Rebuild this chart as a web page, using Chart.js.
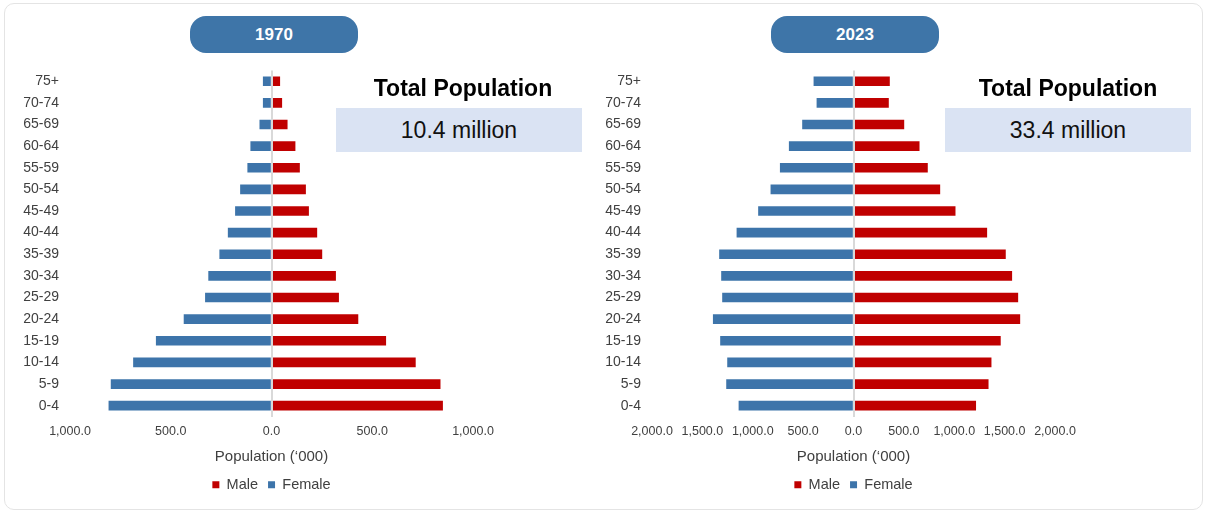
<!DOCTYPE html>
<html>
<head>
<meta charset="utf-8">
<title>Population pyramid 1970 vs 2023</title>
<script src="https://cdn.jsdelivr.net/npm/chart.js@4.4.1/dist/chart.umd.min.js"></script>
<style>
  body { margin: 0; background: #fff; font-family: 'Liberation Sans', Arial, sans-serif; }
  #page { position: relative; width: 1207px; height: 514px; overflow: hidden; }
  .frame { position: absolute; left: 4px; top: 3px; width: 1197px; height: 505px; border: 1px solid #e4e4e4; border-radius: 10px; }
  .pill { position: absolute; top: 16px; width: 168px; height: 37px; border-radius: 16px; background: #3e75a8;
          color: #fff; font-weight: bold; font-size: 17px; line-height: 37px; text-align: center; }
  .total-title { position: absolute; top: 75px; width: 260px; line-height: 26px; text-align: center;
                 font-weight: bold; font-size: 23px; color: #000; }
  .total-box { position: absolute; top: 108px; width: 246px; height: 44px; background: #dae3f3;
               font-size: 23px; line-height: 44px; text-align: center; color: #111; }
  canvas { position: absolute; top: 51px; }
</style>
</head>
<body>
<div id="page">
  <div class="frame"></div>

  <div class="pill" style="left:190px">1970</div>
  <div class="pill" style="left:771px">2023</div>

  <canvas id="pyramid1970" width="600" height="451" style="left:0"></canvas>
  <canvas id="pyramid2023" width="607" height="451" style="left:600px"></canvas>

  <div class="total-title" style="left:333px">Total Population</div>
  <div class="total-box" style="left:336px">10.4 million</div>
  <div class="total-title" style="left:938px">Total Population</div>
  <div class="total-box" style="left:945px">33.4 million</div>
</div>

<script>
// age groups, youngest first (axis is reversed so 0-4 sits at the bottom)
const ageGroups = ['0-4', '5-9', '10-14', '15-19', '20-24', '25-29', '30-34', '35-39',
                   '40-44', '45-49', '50-54', '55-59', '60-64', '65-69', '70-74', '75+'];

// population in thousands
const female1970 = [807, 796, 685, 572, 434, 328, 312, 257, 215, 179, 154, 118, 103, 58, 41, 41];
const male1970   = [849, 837, 714, 567, 429, 333, 318, 250, 225, 184, 169, 139, 117, 78, 51, 41];
const female2023 = [1137, 1260, 1250, 1320, 1392, 1300, 1310, 1330, 1157, 943, 820, 727, 638, 506, 363, 393];
const male2023   = [1213, 1337, 1366, 1458, 1651, 1631, 1571, 1508, 1323, 1009, 857, 734, 652, 500, 347, 357];

// axis extents and tick step
const axisMax1970 = 1000;
const axisMax2023 = 2000;
const tickStep = 500;

const maleColor = '#c00000';
const femaleColor = '#3d74aa';
const textColor = '#404040';

Chart.defaults.font.family = "'Liberation Sans', Arial, sans-serif";

function drawPyramid(canvasId, female, male, axisMax, axisWidth, padRight) {
    const ctx = document.getElementById(canvasId);

    new Chart(ctx, {
        type: 'bar',
        data: {
            labels: ageGroups,
            datasets: [
                { label: 'Male', data: male, backgroundColor: maleColor, barThickness: 9 },
                { label: 'Female', data: female.map(v => -v), backgroundColor: femaleColor, barThickness: 9 }
            ]
        },
        options: {
            indexAxis: 'y',
            responsive: false,
            animation: false,
            layout: { padding: { top: 0, right: padRight, bottom: 0, left: 0 } },
            scales: {
                x: {
                    stacked: true,
                    min: -axisMax,
                    max: axisMax,
                    ticks: {
                        stepSize: tickStep,
                        padding: 8,
                        color: textColor,
                        font: { size: 12.5 },
                        callback: v => Math.abs(v).toLocaleString('en-US', { minimumFractionDigits: 1, maximumFractionDigits: 1 })
                    },
                    // only the zero line is visible, drawn over the bars
                    grid: {
                        z: 1,
                        drawTicks: false,
                        lineWidth: 2,
                        color: c => (c.tick && c.tick.value === 0) ? '#d9d9d9' : 'transparent'
                    },
                    border: { display: false },
                    title: {
                        display: true,
                        text: 'Population (‘000)',
                        color: textColor,
                        font: { size: 15 },
                        padding: { top: 0, bottom: 2 }
                    }
                },
                y: {
                    stacked: true,
                    reverse: true,
                    afterFit: scale => { scale.width = axisWidth; },
                    ticks: { padding: 11, color: textColor, font: { size: 14 } },
                    grid: { display: false, drawTicks: false },
                    border: { display: false }
                }
            },
            plugins: {
                legend: {
                    position: 'bottom',
                    fullSize: false,
                    labels: { boxWidth: 7, boxHeight: 7, padding: 10, color: textColor, font: { size: 14.5 } }
                },
                tooltip: { enabled: false }
            }
        }
    });
}

drawPyramid('pyramid1970', female1970, male1970, axisMax1970, 70, 127);
drawPyramid('pyramid2023', female2023, male2023, axisMax2023, 52, 152);
</script>
</body>
</html>
